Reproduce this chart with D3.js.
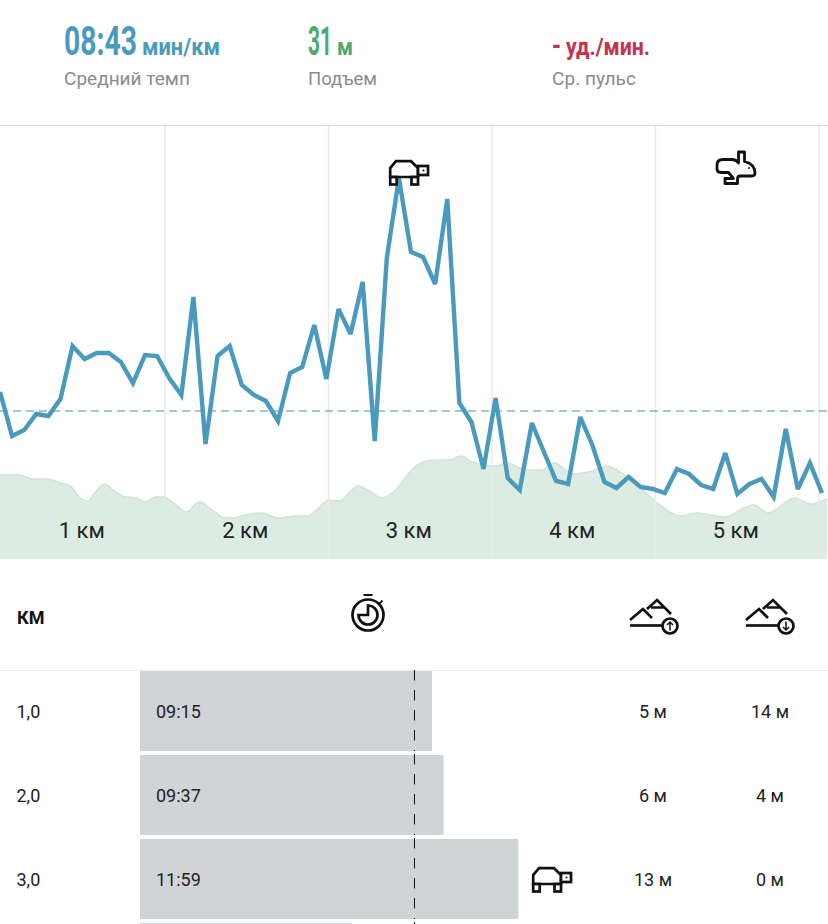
<!DOCTYPE html>
<html>
<head>
<meta charset="utf-8">
<script src="https://cdn.jsdelivr.net/npm/d3@7"></script>
<style>
  html, body { margin: 0; padding: 0; background: #fff; overflow: hidden; }
  svg { display: block; }
  text { font-family: Roboto, "Liberation Sans", sans-serif; }
  .stat { font-weight: 700; }
  .icon { fill: none; stroke: #111; stroke-width: 2.7; }
</style>
</head>
<body>
<svg width="828" height="924"></svg>
<script>
// Pace samples along the run, seconds per km
const paceSeconds = [
  542, 498, 504, 520, 518, 535, 588, 575, 581, 581,
  572, 551, 579, 578, 556, 539, 637, 490, 578, 588,
  549, 539, 533, 513, 561, 567, 609, 555, 625, 600,
  652, 493, 676, 756, 682, 677, 650, 735, 531, 512,
  465, 536, 456, 444, 511, 482, 453, 450, 517, 489,
  452, 446, 457, 447, 445, 441, 465, 460, 449, 445,
  481, 440, 450, 455, 437, 505, 445, 471, 441
];
const avgPace = 523;

// Elevation profile
const elevKm = [
  -0.01, 0.11, 0.19, 0.28, 0.36, 0.42, 0.48, 0.53, 0.57, 0.63, 0.69, 0.76, 0.82, 0.88, 0.94, 0.99,
  1.06, 1.13, 1.21, 1.29, 1.35, 1.41, 1.49, 1.59, 1.69, 1.80, 1.87, 1.94, 2.0, 2.07, 2.13, 2.18,
  2.25, 2.33, 2.41, 2.52, 2.60, 2.69, 2.74, 2.81, 2.88, 2.95, 3.03, 3.09, 3.21, 3.30, 3.38, 3.50,
  3.61, 3.70, 3.81, 3.91, 4.01, 4.16, 4.25, 4.42, 4.60, 4.69, 4.85, 4.95, 5.05
];
const elevMeters = [
  42, 42, 40, 40, 38, 36.5, 30.5, 29, 33, 37.5, 34, 31, 30.5, 28.5, 31, 31,
  27.5, 23.5, 28.5, 24.5, 21, 20.5, 22, 23, 20.5, 21.5, 21.5, 25.5, 29.5, 29, 33.5, 36.5,
  34, 30.5, 34.5, 45.5, 49, 49.5, 49.5, 51.5, 48.5, 47, 46.5, 48, 44.5, 44.5, 48, 42.5,
  44, 46.5, 42, 35.5, 28, 21.5, 23, 21, 27, 23, 30.5, 27.5, 30
];

const kmMarks = [1, 2, 3, 4, 5];
const kmLabelAt = [0.5, 1.5, 2.5, 3.5, 4.5];

// Table rows
const splitKm = ["1,0", "2,0", "3,0", "4,0"];
const splitLabel = ["09:15", "09:37", "11:59", ""];
const splitSeconds = [555, 577, 719, 403];
const splitUp = ["5 м", "6 м", "13 м", ""];
const splitDown = ["14 м", "4 м", "0 м", ""];

const blue = "#4a9abd", green = "#4ea86f", red = "#c5314f", grey = "#8b8b8b";
const svg = d3.select("svg");

// Squeeze a text to a given width, the original font is condensed
function fitText(x, y, size, width, color, bold, str) {
  const t = svg.append("text").attr("font-size", size).attr("fill", color)
    .classed("stat", bold).text(str);
  const sx = width / t.node().getComputedTextLength();
  t.attr("transform", `translate(${x},${y}) scale(${sx},1)`);
}

fitText(64, 55, 40, 73, blue, true, "08:43");
fitText(142, 55, 23, 78, blue, true, "мин/км");
fitText(64, 85, 18, 126, grey, false, "Средний темп");
fitText(308, 55, 40, 24, green, true, "31");
fitText(337, 55, 23, 16, green, true, "м");
fitText(308, 85, 18, 69, grey, false, "Подъем");
fitText(552, 55, 30, 9, red, true, "-");
fitText(566, 55, 23, 84, red, true, "уд./мин.");
fitText(552, 85, 18, 84, grey, false, "Ср. пульс");

svg.append("line").attr("x1", 0).attr("x2", 828).attr("y1", 125.5).attr("y2", 125.5)
  .attr("stroke", "#dcdcdc").attr("stroke-width", 1);

// Chart scales
const xKm = d3.scaleLinear().domain([0, 5]).range([1.5, 819]);
const xSample = d3.scaleLinear().domain([0, paceSeconds.length - 1]).range([0, 822]);
const yPace = d3.scaleLinear().domain([523, 756]).range([411, 178]);
const yElev = d3.scaleLinear().domain([0, 51.5]).range([559, 456]);

// Elevation
const elevArea = d3.area()
  .x((d, i) => xKm(elevKm[i]))
  .y0(yElev(0))
  .y1(d => yElev(d))
  .curve(d3.curveMonotoneX);
svg.append("path").datum(elevMeters).attr("d", elevArea).attr("fill", "#dcece2");
svg.append("path").datum(elevMeters).attr("d", elevArea.lineY1()).attr("fill", "none")
  .attr("stroke", "#cfe3d6").attr("stroke-width", 1.5);

// Km grid lines
svg.selectAll(".km").data(kmMarks).enter().append("line")
  .attr("class", "km")
  .attr("x1", d => xKm(d)).attr("x2", d => xKm(d))
  .attr("y1", 126).attr("y2", 559)
  .attr("stroke", "#e9e9e9").attr("stroke-width", 1.5);

// Average pace
svg.append("line").attr("x1", 0).attr("x2", 828)
  .attr("y1", yPace(avgPace)).attr("y2", yPace(avgPace))
  .attr("stroke", "#4a8fa8").attr("stroke-width", 1).attr("stroke-dasharray", "8,5");

// Pace line
const paceLine = d3.line().x((d, i) => xSample(i)).y(d => yPace(d));
svg.append("path").datum(paceSeconds).attr("d", paceLine)
  .attr("fill", "none").attr("stroke", blue).attr("stroke-width", 4.4)
  .attr("stroke-linejoin", "miter").attr("stroke-miterlimit", 3);

// Km labels
const kmAxis = svg.append("g").attr("transform", "translate(-2,530)")
  .call(d3.axisBottom(xKm).tickValues(kmLabelAt).tickSize(0).tickFormat((d, i) => kmMarks[i] + " км"));
kmAxis.select(".domain").remove();
kmAxis.selectAll("text").attr("y", 0).attr("dy", "0.36em")
  .attr("font-size", 22).attr("font-family", "Roboto").attr("fill", "#222");

// Icons
function turtle(x, y) {
  const g = svg.append("g").attr("class", "icon").attr("transform", `translate(${x},${y})`);
  g.append("path").attr("d", "M1.2,17 V8 L7,1.2 H22 L29,8 V17 Z").attr("fill", "#fff");
  g.append("rect").attr("x", 1.2).attr("y", 17).attr("width", 6.5).attr("height", 7.5).attr("fill", "#fff");
  g.append("rect").attr("x", 22.5).attr("y", 17).attr("width", 6.5).attr("height", 7.5).attr("fill", "#fff");
  g.append("rect").attr("x", 29).attr("y", 6).attr("width", 10).attr("height", 9).attr("fill", "#fff");
  g.append("circle").attr("cx", 34.5).attr("cy", 10.5).attr("r", 1).attr("fill", "#111").attr("stroke", "none");
}
turtle(389, 160);

const rabbit = svg.append("g").attr("class", "icon").attr("transform", "translate(700,140)");
rabbit.append("path").attr("stroke-width", 2.8).attr("stroke-linejoin", "round")
  .attr("d", "M17,29 V25 Q17,19.5 23,19.5 H32 Q36,19.5 38.5,23 V12 H44.5 V21.5 Q55,24 55,33 Q55,36 52,36 H40 Q37.5,36 37.5,39 V43.5 H25 V38.5 H33.5 L28.5,32.5 H21 Q17,32.5 17,29 Z");
rabbit.append("circle").attr("cx", 49).attr("cy", 28).attr("r", 1).attr("fill", "#111").attr("stroke", "none");

// Stopwatch
const watch = svg.append("g").attr("class", "icon").attr("transform", "translate(368,615)").attr("stroke-width", 1.9);
watch.append("circle").attr("r", 15.5);
watch.append("path").attr("d", "M0,-9.5 A9.5,9.5 0 1 1 -9.5,0 H0 Z");
watch.append("path").attr("d", "M-4.5,-20 H4.5 M11.5,-11.5 L14.5,-14.5").attr("stroke-width", 1.8);

// Mountains with climb and descent arrows
function mountain(x, arrow) {
  const g = svg.append("g").attr("class", "icon").attr("transform", `translate(${x},590)`).attr("stroke-width", 1.7);
  g.append("path").attr("d", "M10,30 L23,19 L32,28 M27,19 L37,10 L51,24 M31,17.5 H43.5");
  g.append("path").attr("d", "M10,35.5 H42");
  g.append("circle").attr("cx", 50).attr("cy", 36).attr("r", 7.5);
  g.append("path").attr("d", arrow).attr("stroke-width", 1.5);
}
mountain(620, "M50,40.5 V32 M47,35 L50,32 L53,35");
mountain(736, "M50,31.5 V40 M47,37 L50,40 L53,37");

// Table header
svg.append("text").attr("x", 17).attr("y", 624).attr("font-size", 18).attr("font-weight", 700)
  .attr("fill", "#111").text("КМ");
svg.append("line").attr("x1", 0).attr("x2", 828).attr("y1", 670.5).attr("y2", 670.5)
  .attr("stroke", "#eeeeee");

// Splits
const xBar = d3.scaleLinear().domain([0, 555]).range([140, 432]);
const yRow = d3.scaleBand().domain(splitKm).range([671, 1003]).paddingInner(0.0476).paddingOuter(0);

svg.selectAll(".bar").data(splitSeconds).enter().append("rect")
  .attr("class", "bar")
  .attr("x", xBar(0))
  .attr("y", (d, i) => yRow(splitKm[i]))
  .attr("width", d => xBar(d) - xBar(0))
  .attr("height", yRow.bandwidth())
  .attr("fill", "#d1d4d6");

// Average marker restarts its dashes in each row
svg.selectAll(".avg").data(splitKm).enter().append("line")
  .attr("class", "avg")
  .attr("x1", xBar(avgPace) - 0.7).attr("x2", xBar(avgPace) - 0.7)
  .attr("y1", d => yRow(d) - 1).attr("y2", d => yRow(d) + yRow.bandwidth())
  .attr("stroke", "#111").attr("stroke-width", 1).attr("stroke-dasharray", "10.5,9.5");

function rowText(values, x, anchor) {
  svg.append("g").selectAll("text").data(values).enter().append("text")
    .attr("x", x)
    .attr("y", (d, i) => yRow(splitKm[i]) + yRow.bandwidth() / 2 + 7)
    .attr("text-anchor", anchor)
    .attr("font-size", 18).attr("fill", "#222")
    .text(d => d);
}
rowText(splitKm.slice(0, 3), 16.5, "start");
rowText(splitLabel, 156, "start");
rowText(splitUp, 653, "middle");
rowText(splitDown, 770, "middle");

turtle(532, 867);
</script>
</body>
</html>
